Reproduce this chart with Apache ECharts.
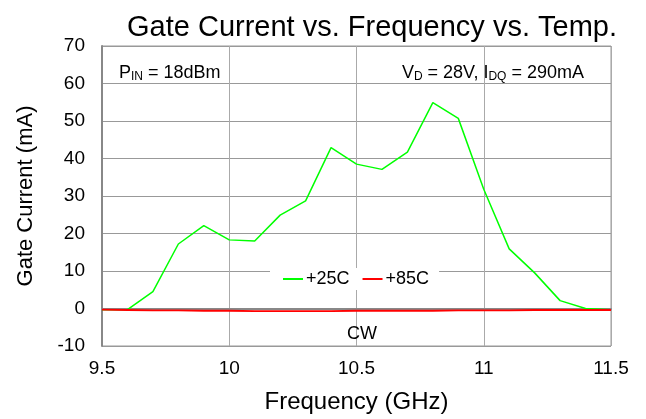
<!DOCTYPE html>
<html><head><meta charset="utf-8">
<script src="https://cdn.jsdelivr.net/npm/echarts@6/dist/echarts.min.js"></script>
<style>html,body{margin:0;padding:0;background:#fff}#c{width:646px;height:419px}</style>
</head><body><div id="c"></div>
<script>
const freq = [9.5,9.6,9.7,9.8,9.9,10.0,10.1,10.2,10.3,10.4,10.5,10.6,10.7,10.8,10.9,11.0,11.1,11.2,11.3,11.4,11.5];
const temp25 = [-0.3,-0.3,4.5,17.2,22.1,18.3,18.0,24.9,28.7,42.9,38.5,37.1,41.7,54.9,50.7,31.8,15.9,9.5,2.1,0,-0.3];
const temp85 = [-0.3,-0.4,-0.5,-0.5,-0.6,-0.6,-0.7,-0.7,-0.7,-0.7,-0.6,-0.6,-0.6,-0.6,-0.5,-0.5,-0.5,-0.4,-0.4,-0.4,-0.4];
const seriesNames = ['+25C','+85C'];
const F = 'Liberation Sans, Arial, sans-serif';
const sub = {fontFamily:F,fontSize:12,verticalAlign:'bottom',color:'#000'};
const chart = echarts.init(document.getElementById('c'));
chart.setOption({
  animation:false,
  backgroundColor:'#fff',
  title:[
    {text:'Gate Current vs. Frequency vs. Temp.', left:367, top:8, textAlign:'center',
     textStyle:{fontFamily:F,fontSize:29,fontWeight:'normal',color:'#000'}},
    {text:'P{s|IN} = 18dBm', left:114, top:58,
     textStyle:{fontFamily:F,fontSize:18,fontWeight:'normal',color:'#000',lineHeight:20,rich:{s:sub}}},
    {text:'V{s|D} = 28V, I{s|DQ} = 290mA', right:57, top:58,
     textStyle:{fontFamily:F,fontSize:18,fontWeight:'normal',color:'#000',lineHeight:20,rich:{s:sub}}},
    {text:'CW', left:357, top:320, textAlign:'center',
     textStyle:{fontFamily:F,fontSize:18,fontWeight:'normal',color:'#000'}}
  ],
  legend:{data:seriesNames, left:270, top:268, backgroundColor:'#fff',
    padding:[2,10,2,12], itemGap:12, itemWidth:20, itemHeight:2,
    textStyle:{fontFamily:F,fontSize:18,color:'#000',padding:[0,0,0,-2]}},
  grid:{left:102, top:46, width:509, height:301, show:true, borderColor:'#999', borderWidth:1, containLabel:false},
  xAxis:{type:'value', min:9.5, max:11.5, interval:0.5,
    name:'Frequency (GHz)', nameLocation:'middle', nameGap:44,
    nameTextStyle:{fontFamily:F,fontSize:24,color:'#000'},
    axisLine:{lineStyle:{color:'#888',width:2}}, axisTick:{show:false},
    axisLabel:{fontFamily:F,fontSize:19,color:'#000',margin:13},
    splitLine:{lineStyle:{color:'#aaa',width:1}}},
  yAxis:{type:'value', min:-10, max:70, interval:10,
    name:'Gate Current (mA)', nameLocation:'middle', nameGap:65,
    nameTextStyle:{fontFamily:F,fontSize:22,color:'#000'},
    axisLine:{show:true,lineStyle:{color:'#888',width:2}}, axisTick:{show:false},
    axisLabel:{fontFamily:F,fontSize:19,color:'#000',margin:17},
    splitLine:{lineStyle:{color:'#999',width:1}}},
  series:[
    {name:seriesNames[0], type:'line', symbol:'none', data:freq.map((f,i)=>[f,temp25[i]]),
     lineStyle:{color:'#00ff00',width:1.5}, itemStyle:{color:'#00ff00'}, z:3},
    {name:seriesNames[1], type:'line', symbol:'none', data:freq.map((f,i)=>[f,temp85[i]]),
     lineStyle:{color:'#ff0000',width:1.8}, itemStyle:{color:'#ff0000'}, z:4}
  ]
});
</script></body></html>
